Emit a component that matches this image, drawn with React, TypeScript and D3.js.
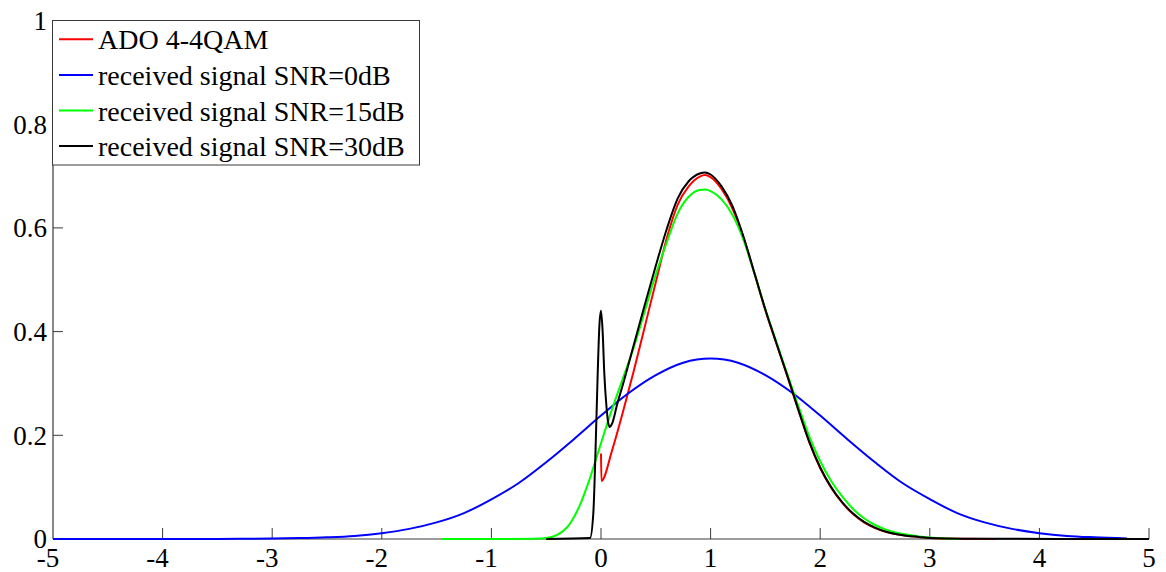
import React from "react";
import * as d3 from "d3";

// ---------- data ----------
const xTicks = [-5, -4, -3, -2, -1, 0, 1, 2, 3, 4, 5];
const yTicks = [0, 0.2, 0.4, 0.6, 0.8, 1];
const yTickLabels = ["0", "0.2", "0.4", "0.6", "0.8", "1"];

const seriesNames = [
  "ADO 4-4QAM",
  "received signal SNR=0dB",
  "received signal SNR=15dB",
  "received signal SNR=30dB",
];
const seriesColors = ["#ff0000", "#0000ff", "#00ff00", "#000000"];

// ADO 4-4QAM (red)
const redX = [0, 0.004, 0.1, 0.2, 0.3, 0.4, 0.5, 0.6, 0.7, 0.8, 0.9, 0.95, 1.0, 1.1, 1.2, 1.3, 1.4, 1.5, 1.6, 1.7, 1.8, 1.9, 2.0, 2.1, 2.2, 2.3, 2.4, 2.5, 2.6, 2.7, 2.8, 2.9, 3.0, 3.3, 3.6];
const redY = [0.165, 0.112, 0.17, 0.245, 0.325, 0.41, 0.495, 0.58, 0.645, 0.68, 0.699, 0.702, 0.698, 0.675, 0.637, 0.582, 0.512, 0.441, 0.377, 0.314, 0.249, 0.187, 0.137, 0.099, 0.07, 0.048, 0.032, 0.021, 0.014, 0.009, 0.006, 0.004, 0.002, 0.0005, 0];

// SNR = 0 dB (blue)
const blueX = [-5, -4.5, -4, -3.5, -3, -2.75, -2.5, -2.25, -2, -1.75, -1.5, -1.25, -1, -0.75, -0.5, -0.25, 0, 0.25, 0.5, 0.75, 1, 1.25, 1.5, 1.75, 2, 2.25, 2.5, 2.75, 3, 3.25, 3.5, 3.75, 4, 4.25, 4.5, 4.8];
const blueY = [0, 0, 0, 0.0002, 0.0008, 0.0017, 0.0033, 0.006, 0.0113, 0.0195, 0.032, 0.05, 0.0765, 0.108, 0.148, 0.192, 0.238, 0.281, 0.316, 0.34, 0.348, 0.34, 0.316, 0.281, 0.238, 0.192, 0.148, 0.108, 0.077, 0.05, 0.032, 0.0195, 0.0113, 0.006, 0.0033, 0.0012];

// SNR = 15 dB (green)
const greenX = [-1.45, -1, -0.6, -0.5, -0.4, -0.3, -0.2, -0.1, 0, 0.1, 0.2, 0.3, 0.4, 0.5, 0.6, 0.7, 0.8, 0.9, 0.95, 1.0, 1.1, 1.2, 1.3, 1.4, 1.5, 1.6, 1.7, 1.8, 1.9, 2.0, 2.1, 2.2, 2.3, 2.4, 2.5, 2.6, 2.7, 2.8, 2.9, 3.0, 3.27];
const greenY = [0, 0, 0.0005, 0.002, 0.008, 0.025, 0.062, 0.118, 0.185, 0.25, 0.31, 0.37, 0.44, 0.51, 0.572, 0.628, 0.66, 0.673, 0.674, 0.671, 0.655, 0.625, 0.577, 0.512, 0.443, 0.38, 0.318, 0.257, 0.198, 0.15, 0.112, 0.082, 0.058, 0.04, 0.027, 0.018, 0.012, 0.008, 0.005, 0.003, 0];

// SNR = 30 dB (black)
const blackX = [-0.5, -0.1, -0.07, -0.05, -0.03, -0.015, 0, 0.015, 0.03, 0.05, 0.065, 0.08, 0.1, 0.15, 0.2, 0.3, 0.4, 0.5, 0.6, 0.7, 0.8, 0.9, 0.95, 1.0, 1.1, 1.2, 1.3, 1.4, 1.5, 1.6, 1.7, 1.8, 1.9, 2.0, 2.1, 2.2, 2.3, 2.4, 2.5, 2.6, 2.7, 2.8, 2.9, 3.0, 3.3, 5];
const blackY = [0, 0.002, 0.05, 0.17, 0.32, 0.41, 0.44, 0.4, 0.32, 0.255, 0.225, 0.216, 0.222, 0.262, 0.298, 0.375, 0.452, 0.527, 0.598, 0.657, 0.69, 0.705, 0.707, 0.703, 0.68, 0.642, 0.583, 0.513, 0.442, 0.378, 0.315, 0.25, 0.188, 0.138, 0.1, 0.071, 0.049, 0.033, 0.022, 0.014, 0.009, 0.006, 0.004, 0.002, 0.0005, 0];

const seriesX = [redX, blueX, greenX, blackX];
const seriesY = [redY, blueY, greenY, blackY];

// ---------- layout ----------
const W = 1166;
const H = 572;
const left = 53;
const right = 1149;
const top = 20.5;
const bottom = 539;
const FONT = "'Liberation Serif', 'Times New Roman', serif";
const AXIS = "#3a3a3a";

export default function App() {
  const x = d3.scaleLinear().domain([-5, 5]).range([left, right]);
  const y = d3.scaleLinear().domain([0, 1]).range([bottom, top]);

  const line = d3
    .line<[number, number]>()
    .x((d) => x(d[0]))
    .y((d) => y(d[1]))
    .curve(d3.curveMonotoneX);

  const paths = seriesX.map((xs, i) =>
    line(xs.map((v, j) => [v, seriesY[i][j]] as [number, number]))
  );

  const legX = left - 0.5;
  const legY = top;
  const legW = 367;
  const legH = 144.5;
  const rowBase = [49.3, 85, 120.5, 156];

  return (
    <svg
      width={W}
      height={H}
      style={{ position: "fixed", left: 0, top: 0, background: "#fff" }}
      fontFamily={FONT}
    >
      <rect x={0} y={0} width={W} height={H} fill="#fff" />
      <defs>
        <clipPath id="plot">
          <rect x={left} y={top - 2} width={right - left + 2} height={bottom - top + 3} />
        </clipPath>
      </defs>

      {/* axes */}
      <line x1={left} x2={right} y1={bottom} y2={bottom} stroke={AXIS} strokeWidth={1.2} />
      <line x1={left} x2={left} y1={top} y2={bottom} stroke={AXIS} strokeWidth={1.2} />

      {/* x ticks */}
      {xTicks.map((t) => (
        <g key={"xt" + t}>
          {t !== -5 && (
            <line x1={x(t)} x2={x(t)} y1={bottom} y2={bottom - 11} stroke={AXIS} strokeWidth={1} />
          )}
          <text
            x={x(t) + (t < 0 ? -5 : 0)}
            y={566.5}
            textAnchor="middle"
            fontSize={27}
            fill="#000"
          >
            {String(t)}
          </text>
        </g>
      ))}

      {/* y ticks */}
      {yTicks.map((t, i) => (
        <g key={"yt" + t}>
          {t !== 0 && (
            <line x1={left} x2={left + 10} y1={y(t)} y2={y(t)} stroke={AXIS} strokeWidth={1} />
          )}
          <text
            x={47}
            y={y(t)}
            dy="0.35em"
            textAnchor="end"
            fontSize={27}
            fill="#000"
          >
            {yTickLabels[i]}
          </text>
        </g>
      ))}

      {/* series */}
      <g clipPath="url(#plot)">
        {paths.map((p, i) => (
          <path
            key={"s" + i}
            d={p || ""}
            fill="none"
            stroke={seriesColors[i]}
            strokeWidth={2}
            strokeLinejoin="round"
          />
        ))}
      </g>

      {/* legend */}
      <rect x={legX} y={legY} width={legW} height={legH} fill="#fff" stroke={AXIS} strokeWidth={1} />
      {seriesNames.map((name, i) => (
        <g key={"lg" + i}>
          <line
            x1={59}
            x2={93}
            y1={rowBase[i] - 10}
            y2={rowBase[i] - 10}
            stroke={seriesColors[i]}
            strokeWidth={2}
          />
          <text x={98} y={rowBase[i]} fontSize={28} fill="#000">
            {name}
          </text>
        </g>
      ))}
    </svg>
  );
}
